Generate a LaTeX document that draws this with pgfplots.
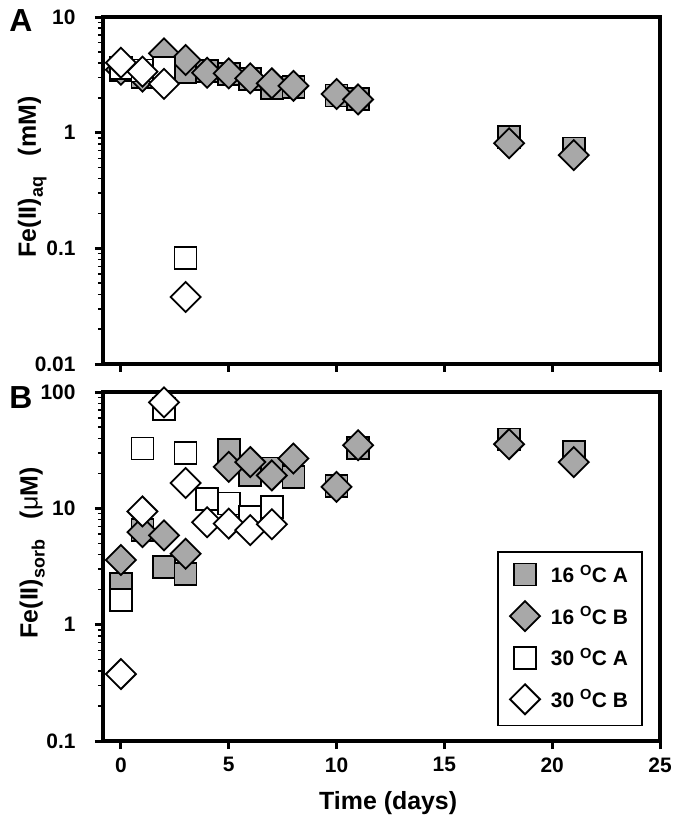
\documentclass[border=0pt]{standalone}
\usepackage{pgfplots}
\pgfplotsset{compat=1.18}
\usepackage{fontspec}
\setmainfont{Liberation Sans}
\definecolor{mgray}{RGB}{168,168,168}
\pgfplotsset{
  fecommon/.style={
    scale only axis, width=557bp, height=347bp,
    xmin=-0.83, xmax=25, xtick={0,5,10,15,20,25},
    tick pos=left, tick align=outside,
    axis line style={line width=3.5bp},
    major tick length=8bp, minor tick length=5bp,
    every major tick/.style={line width=3bp, black},
    every minor tick/.style={line width=1.5bp, black},
    /pgf/number format/assume math mode=true,
    ticklabel style={font=\fontsize{21}{21}\selectfont\bfseries},
    xticklabel style={yshift=-5bp},
    label style={font=\fontsize{25}{25}\selectfont\bfseries},
    ylabel style={at={(rel axis cs:-0.127,0.539)}, anchor=center},
    xlabel style={at={(rel axis cs:0.512,-0.178)}, anchor=center},
    clip=false,
  },
  sA/.style={only marks, mark=square*, mark size=11bp, mark options={fill=mgray, draw=black, line width=1.8bp}},
  sB/.style={only marks, mark=square*, mark size=10.6bp, mark options={fill=mgray, draw=black, line width=1.8bp, rotate=45}},
  wA/.style={only marks, mark=square*, mark size=11bp, mark options={fill=white, draw=black, line width=1.8bp}},
  wB/.style={only marks, mark=square*, mark size=10.6bp, mark options={fill=white, draw=black, line width=1.8bp, rotate=45}},
}
\newcommand{\sub}[1]{\raisebox{-0.28em}{\fontsize{18}{18}\selectfont #1}}
\newcommand{\yl}[1]{#1\kern16bp}
\begin{document}
\begin{tikzpicture}
\useasboundingbox (0bp,0bp) rectangle (679bp,-826bp);
\node[font=\fontsize{32}{32}\selectfont\bfseries, anchor=center] at (21bp,-21bp) {A};
\node[font=\fontsize{32}{32}\selectfont\bfseries, anchor=center] at (21bp,-398bp) {B};
\begin{axis}[ymode=log, fecommon,
  at={(103bp,-364bp)}, anchor=south west,
  ymin=0.01, ymax=10,
  ytick={0.01,0.1,1,10}, yticklabels={\yl{0.01},\yl{0.1},\yl{1},\yl{10}},
  xticklabels={},
  ylabel={Fe(II)\sub{aq}\ \ \ (mM)},
]
\addplot[sA] coordinates {(0,3.5) (1,3.05) (2,3.5) (3,3.37) (4,3.4) (5,3.2) (6,2.9) (7,2.42) (8,2.5) (10,2.1) (11,1.95) (18,0.92) (21,0.73)};
\addplot[sB] coordinates {(0,3.5) (1,3.05) (2,4.85) (3,4.25) (4,3.3) (5,3.26) (6,2.95) (7,2.67) (8,2.54) (10,2.16) (11,1.94) (18,0.81) (21,0.64)};
\addplot[wA] coordinates {(0,3.6) (1,3.45) (2,3.6) (3,0.083)};
\addplot[wB] coordinates {(0,4.03) (1,3.37) (2,2.64) (3,0.038)};
\end{axis}
\begin{axis}[ymode=log, fecommon,
  at={(103bp,-741bp)}, anchor=south west, height=349bp,
  ymin=0.1, ymax=100,
  ytick={0.1,1,10,100}, yticklabels={\yl{0.1},\yl{1},\yl{10},\yl{100}},
  xticklabels={0,5,10,15,20,25},
  xlabel={Time (days)},
  ylabel={Fe(II)\sub{sorb}\ \ \ (\textmd{μ}M)},
  legend cell align=left,
  legend style={at={(0.969,0.043)}, anchor=south east, draw=black, line width=1.5bp,
    font=\fontsize{21}{21}\selectfont\bfseries, row sep=15bp, inner xsep=12bp, inner ysep=11bp,
    /tikz/every odd column/.append style={column sep=9bp}},
]
\addplot[sA] coordinates {(0,2.24) (1,6.5) (2,3.12) (3,2.73) (5,31.6) (6,19.2) (7,22) (8,18.6) (10,15.5) (11,33) (18,39) (21,30.6)};
\addlegendentry{16 \textsuperscript{O}C A}
\addplot[sB] coordinates {(0,3.6) (1,6.25) (2,5.85) (3,4.07) (5,22.7) (6,25) (7,19.2) (8,26.8) (10,15.3) (11,34.9) (18,35.6) (21,25)};
\addlegendentry{16 \textsuperscript{O}C B}
\addplot[wA] coordinates {(0,1.63) (1,32.7) (2,72) (3,30) (4,12.1) (5,11) (6,8.4) (7,10.3)};
\addlegendentry{30 \textsuperscript{O}C A}
\addplot[wB] coordinates {(0,0.376) (1,9.4) (2,81.5) (3,16.5) (4,7.6) (5,7.4) (6,6.5) (7,7.3)};
\addlegendentry{30 \textsuperscript{O}C B}
\end{axis}
\end{tikzpicture}
\end{document}
